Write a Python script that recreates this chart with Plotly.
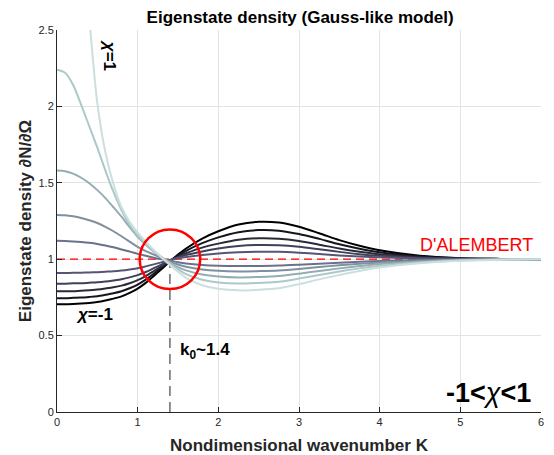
import plotly.graph_objects as go

# ---------------- data ----------------
K = [0, 0.1, 0.2, 0.3, 0.4, 0.5, 0.6, 0.7, 0.8, 0.9, 1.0, 1.1, 1.2, 1.3, 1.4, 1.5,
     1.6, 1.8, 2.0, 2.25, 2.5, 2.75, 3.0, 3.25, 3.5, 3.75, 4.0, 4.5, 5.0, 5.5, 6.0]

chi_values = [-1.0, -0.8, -0.6, -0.4, -0.2, 0.2, 0.4, 0.6, 0.8, 1.0]

dens_m10 = [0.705, 0.705, 0.707, 0.71, 0.714, 0.72, 0.73, 0.742, 0.757, 0.78, 0.808, 0.845,
            0.89, 0.937, 0.985, 1.03, 1.07, 1.135, 1.183, 1.227, 1.245, 1.24, 1.212, 1.17,
            1.125, 1.088, 1.058, 1.022, 1.007, 1.002, 1.0]
dens_m08 = [0.745, 0.745, 0.747, 0.749, 0.753, 0.758, 0.767, 0.777, 0.79, 0.81, 0.834, 0.866,
            0.905, 0.946, 0.987, 1.023, 1.055, 1.105, 1.143, 1.177, 1.191, 1.187, 1.165, 1.133,
            1.098, 1.069, 1.045, 1.017, 1.005, 1.002, 1.0]
dens_m06 = [0.79, 0.79, 0.791, 0.794, 0.796, 0.801, 0.808, 0.816, 0.827, 0.843, 0.863, 0.89,
            0.922, 0.955, 0.989, 1.017, 1.039, 1.076, 1.102, 1.127, 1.137, 1.134, 1.119, 1.095,
            1.07, 1.049, 1.032, 1.012, 1.004, 1.001, 1.0]
dens_m04 = [0.84, 0.84, 0.842, 0.843, 0.846, 0.849, 0.854, 0.861, 0.869, 0.881, 0.896, 0.916,
            0.941, 0.966, 0.992, 1.011, 1.027, 1.051, 1.07, 1.086, 1.093, 1.091, 1.081, 1.065,
            1.048, 1.033, 1.022, 1.008, 1.003, 1.001, 1.0]
dens_m02 = [0.91, 0.91, 0.911, 0.912, 0.913, 0.915, 0.918, 0.921, 0.926, 0.933, 0.941, 0.953,
            0.966, 0.981, 0.995, 1.006, 1.014, 1.027, 1.037, 1.045, 1.049, 1.048, 1.042, 1.034,
            1.025, 1.018, 1.012, 1.004, 1.001, 1.0, 1.0]
dens_p02 = [1.12, 1.119, 1.116, 1.112, 1.107, 1.1, 1.09, 1.078, 1.064, 1.05, 1.035, 1.022,
            1.01, 0.999, 0.99, 0.98, 0.972, 0.962, 0.957, 0.955, 0.956, 0.958, 0.964, 0.971,
            0.977, 0.983, 0.988, 0.994, 0.998, 0.999, 1.0]
dens_p04 = [1.29, 1.288, 1.281, 1.27, 1.255, 1.237, 1.212, 1.183, 1.15, 1.115, 1.08, 1.053,
            1.03, 1.006, 0.984, 0.965, 0.951, 0.933, 0.924, 0.92, 0.922, 0.926, 0.936, 0.949,
            0.96, 0.97, 0.979, 0.989, 0.996, 0.999, 1.0]
dens_p06 = [1.58, 1.576, 1.56, 1.533, 1.497, 1.452, 1.4, 1.34, 1.278, 1.21, 1.147, 1.095,
            1.05, 1.01, 0.977, 0.948, 0.927, 0.9, 0.887, 0.881, 0.884, 0.89, 0.905, 0.923,
            0.94, 0.955, 0.968, 0.984, 0.994, 0.998, 1.0]
dens_p08 = [2.24, 2.22, 2.14, 2.01, 1.87, 1.73, 1.58, 1.44, 1.32, 1.225, 1.155, 1.1,
            1.055, 1.013, 0.972, 0.935, 0.902, 0.866, 0.848, 0.841, 0.845, 0.852, 0.873, 0.897,
            0.92, 0.94, 0.957, 0.979, 0.992, 0.998, 1.0]
dens_p10 = [None, None, None, 3.2, 2.58, 2.02, 1.7, 1.49, 1.34, 1.245, 1.175, 1.115,
            1.06, 1.01, 0.962, 0.918, 0.878, 0.83, 0.806, 0.796, 0.8, 0.81, 0.837, 0.868,
            0.897, 0.923, 0.945, 0.973, 0.99, 0.997, 1.0]

series = [dens_m10, dens_m08, dens_m06, dens_m04, dens_m02,
          dens_p02, dens_p04, dens_p06, dens_p08, dens_p10]

dalembert_level = 1.0
k0 = 1.4

x_ticks = [0, 1, 2, 3, 4, 5, 6]
y_ticks = [0, 0.5, 1, 1.5, 2, 2.5]
y_tick_labels = ["0", "0.5", "1", "1.5", "2", "2.5"]

# bone-like colormap, dark (chi=-1) to light (chi=1)
colors = ["#000000", "#15151d", "#2a2a3b", "#404058", "#555575",
          "#6a728a", "#7f909f", "#94adb4", "#abc9c9", "#ccdfdf"]

FONT = "Liberation Sans, Arial, Helvetica, sans-serif"

fig = go.Figure()

# D'Alembert reference line (under curves)
fig.add_trace(go.Scatter(
    x=[x_ticks[0], x_ticks[-1]], y=[dalembert_level, dalembert_level],
    mode="lines", line=dict(color="#ff0000", width=1.2, dash="8px,5px"),
    hoverinfo="skip", showlegend=False))

# k0 vertical marker
fig.add_trace(go.Scatter(
    x=[k0, k0], y=[0, 0.97], mode="lines",
    line=dict(color="#555555", width=1.3, dash="10px,6px"),
    hoverinfo="skip", showlegend=False))

for chi, vals, col in zip(chi_values, series, colors):
    fig.add_trace(go.Scatter(
        x=K, y=vals, mode="lines", name=f"chi={chi}",
        line=dict(color=col, width=2, shape="spline", smoothing=0.8),
        connectgaps=False, showlegend=False))

# red circle around the crossing point
fig.add_shape(type="circle", xref="x", yref="y",
              x0=k0 - 0.375, x1=k0 + 0.375,
              y0=dalembert_level - 0.195, y1=dalembert_level + 0.195,
              line=dict(color="#ff0000", width=2.5))

ann_font = dict(family=FONT, size=17, color="#000000")
fig.add_annotation(x=0.66, y=2.336, xref="x", yref="y", text="<b><i>χ</i>=1</b>",
                   textangle=90, showarrow=False, font=ann_font)
fig.add_annotation(x=0.465, y=0.638, xref="x", yref="y", text="<b><i>χ</i>=-1</b>",
                   showarrow=False, font=ann_font)
fig.add_annotation(x=1.5, y=0.40, xref="x", yref="y", text="<b>k<sub>0</sub>~1.4</b>",
                   xanchor="left", showarrow=False, font=ann_font)
fig.add_annotation(x=5.2, y=1.096, xref="x", yref="y", text="D'ALEMBERT",
                   showarrow=False, font=dict(family=FONT, size=18, color="#ff0000"))
fig.add_annotation(x=5.9, y=0.124, xref="x", yref="y",
                   text="<b>-1&lt;</b><i>χ</i><b>&lt;1</b>",
                   xanchor="right", showarrow=False,
                   font=dict(family=FONT, size=27, color="#000000"))

axis_common = dict(
    showgrid=True, gridcolor="#e3e3e3", gridwidth=1,
    showline=True, linecolor="#262626", linewidth=1,
    ticks="inside", ticklen=5, tickcolor="#262626",
    tickfont=dict(family=FONT, size=11, color="#262626"),
    zeroline=False, mirror=False, automargin=False,
)

# the page body adds an 8px offset, so the figure is sized to fit the window
fig.update_layout(
    width=546, height=447,
    margin=dict(l=49, r=13, t=22, b=43),
    paper_bgcolor="white", plot_bgcolor="white",
    title=dict(text="<b>Eigenstate density (Gauss-like model)</b>",
               x=0.535, xanchor="center", y=0.993, yanchor="top",
               pad=dict(t=0, b=0),
               font=dict(family=FONT, size=17, color="#000000")),
    xaxis=dict(range=[0, 6], tickvals=x_ticks, ticktext=[str(t) for t in x_ticks],
               title=dict(text="<b>Nondimensional wavenumber K</b>", standoff=12,
                          font=dict(family=FONT, size=17, color="#262626")),
               **axis_common),
    yaxis=dict(range=[0, 2.5], tickvals=y_ticks, ticktext=y_tick_labels,
               title=dict(text="<b>Eigenstate density ∂N/∂Ω</b>", standoff=2,
                          font=dict(family=FONT, size=17, color="#262626")),
               **axis_common),
)

fig.write_html("out.html")
